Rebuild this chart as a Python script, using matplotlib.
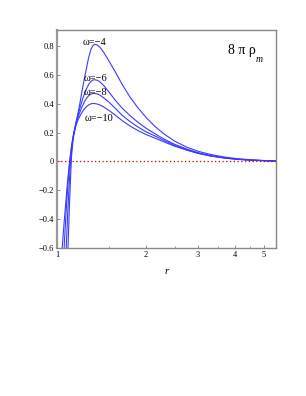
import matplotlib.pyplot as plt
from matplotlib.ticker import FixedLocator, FuncFormatter, NullFormatter

# === Data ===
r = [1.04, 1.05, 1.06, 1.07, 1.08, 1.09, 1.10, 1.11, 1.12, 1.13, 1.14, 1.16, 1.18,
     1.20, 1.22, 1.24, 1.26, 1.28, 1.30, 1.32, 1.34,
     1.37, 1.40, 1.44, 1.50,
     1.58, 1.66, 1.76, 1.88, 2.0,
     2.15, 2.3, 2.5, 2.75, 3.0,
     3.3, 3.7, 4.1, 4.6, 5.0, 5.5]

rho_w4 = [-0.62, -0.51, -0.40, -0.30, -0.20, -0.11, -0.03, 0.04, 0.10, 0.15, 0.195, 0.27, 0.34,
          0.42, 0.505, 0.58, 0.65, 0.72, 0.77, 0.80, 0.812,
          0.806, 0.79, 0.755, 0.695,
          0.615, 0.535, 0.45, 0.37, 0.305,
          0.24, 0.19, 0.14, 0.098, 0.07,
          0.048, 0.029, 0.018, 0.010, 0.006, 0.003]
rho_w6 = [-0.95, -0.74, -0.56, -0.41, -0.27, -0.15, -0.05, 0.03, 0.10, 0.15, 0.195, 0.265, 0.325,
          0.38, 0.43, 0.47, 0.505, 0.533, 0.552, 0.563, 0.566,
          0.562, 0.55, 0.525, 0.48,
          0.42, 0.37, 0.32, 0.27, 0.23,
          0.19, 0.155, 0.118, 0.085, 0.06,
          0.04, 0.024, 0.015, 0.008, 0.005, 0.003]
rho_w8 = [-1.45, -1.17, -0.92, -0.70, -0.50, -0.32, -0.16, -0.03, 0.07, 0.14, 0.19, 0.26, 0.31,
          0.35, 0.385, 0.415, 0.438, 0.455, 0.465, 0.47, 0.471,
          0.467, 0.458, 0.44, 0.41,
          0.365, 0.32, 0.278, 0.238, 0.205,
          0.175, 0.145, 0.11, 0.08, 0.057,
          0.038, 0.023, 0.014, 0.008, 0.005, 0.003]
rho_w10 = [-2.15, -1.8, -1.47, -1.16, -0.87, -0.60, -0.36, -0.15, 0.03, 0.12, 0.18, 0.25, 0.29,
           0.32, 0.345, 0.365, 0.38, 0.391, 0.398, 0.401, 0.401,
           0.397, 0.39, 0.377, 0.353,
           0.318, 0.283, 0.247, 0.213, 0.186,
           0.16, 0.135, 0.105, 0.077, 0.055,
           0.037, 0.022, 0.013, 0.007, 0.004, 0.002]

series = [rho_w4, rho_w6, rho_w8, rho_w10]
labels = ["ω=−4", "ω=−6", "ω=−8", "ω=−10"]
label_r = [1.224, 1.234, 1.234, 1.243]
label_y = [0.822, 0.573, 0.475, 0.297]

x_ticks = [1, 2, 3, 4, 5]
x_minor = [1.5, 2.5, 3.5, 4.5]
y_ticks = [-0.6, -0.4, -0.2, 0, 0.2, 0.4, 0.6, 0.8]

plt.rcParams['font.family'] = ['Liberation Serif', 'DejaVu Serif']

fig = plt.figure(figsize=(3.06, 3.96), dpi=100)
ax = fig.add_axes([0.186, 0.374, 0.716, 0.550])

for vals in series:
    ax.plot(r, vals, color='#3a3aff', lw=0.8)

ax.axhline(0, color='#cc0000', ls=(0, (1, 2)), lw=0.9)

for lab, lr, ly in zip(labels, label_r, label_y):
    ax.text(lr, ly, lab, fontsize=7.5, ha='left', va='center')

ax.text(0.78, 0.905, "8 π ρ", transform=ax.transAxes, fontsize=10, va='center')
ax.text(0.905, 0.865, "m", transform=ax.transAxes, fontsize=7, style='italic', va='center')

ax.set_xscale('log')
ax.set_xlim(1.0, 5.5)
ax.set_ylim(-0.6, 0.91)
ax.xaxis.set_major_locator(FixedLocator(x_ticks))
ax.xaxis.set_major_formatter(FuncFormatter(lambda v, p: f"{v:g}"))
ax.xaxis.set_minor_locator(FixedLocator(x_minor))
ax.xaxis.set_minor_formatter(NullFormatter())
ax.yaxis.set_major_locator(FixedLocator(y_ticks))
ax.yaxis.set_major_formatter(FuncFormatter(
    lambda v, p: "0" if abs(v) < 1e-9 else f"{v:.1f}".replace("-", "−")))

ax.tick_params(axis='both', which='major', direction='in', length=2.5,
               width=0.6, labelsize=6, pad=2, color='#777777')
ax.tick_params(axis='x', which='minor', direction='in', length=1.5,
               width=0.5, color='#777777')

for side in ['top', 'bottom', 'right']:
    ax.spines[side].set_color('#888888')
    ax.spines[side].set_linewidth(1.0)
ax.spines['left'].set_color('#999999')
ax.spines['left'].set_linewidth(1.6)

ax.set_xlabel("r", fontsize=8, style='italic', labelpad=6)

fig.savefig("out.png", dpi=100)
